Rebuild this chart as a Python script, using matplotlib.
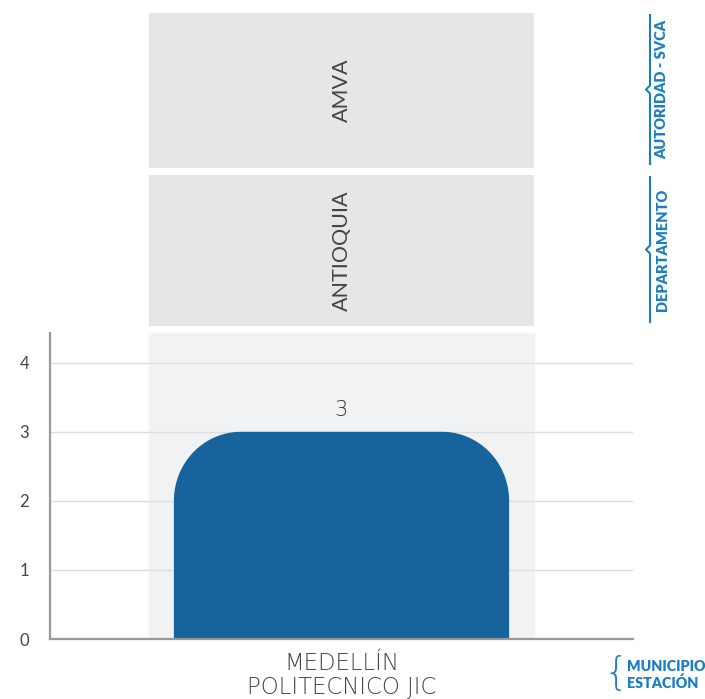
import numpy as np
import matplotlib.pyplot as plt
from matplotlib.patches import Polygon
from matplotlib.lines import Line2D

plt.rcParams['font.family'] = ['Lato', 'DejaVu Sans']

# datos
categorias = ["MEDELLÍN\nPOLITECNICO JIC"]
valores = [3]
paneles = ["AMVA", "ANTIOQUIA"]
niveles = ["AUTORIDAD - SVCA", "DEPARTAMENTO"]
y_ticks = [0, 1, 2, 3, 4]

azul_barra = '#17639b'
azul_texto = '#1a7fc1'
gris_panel = '#e5e6e8'
gris_banda = '#f1f2f4'

W, H = 705, 699
fig = plt.figure(figsize=(W / 100, H / 100), dpi=100)


def caja(x0, y0, x1, y1):
    # pixeles (origen arriba-izquierda) -> fraccion de figura
    return [x0 / W, 1 - y1 / H, (x1 - x0) / W, (y1 - y0) / H]


# grafico principal
ax = fig.add_axes(caja(50, 333, 633, 639))
ax.set_xlim(-0.5, 0.5)
ax.set_ylim(0, 4.43)
x = list(range(len(categorias)))
ax.axvspan(-0.33, 0.33, color=gris_banda, zorder=0)
ax.set_yticks(y_ticks)
ax.yaxis.grid(True, color='#dedede', linewidth=1, zorder=1)
ax.set_axisbelow(True)

ancho = 0.575
rx, ry = 0.115, 1.0   # radio de las esquinas (x en unidades de categoria, y en unidades de valor)
t = np.linspace(0, np.pi / 2, 40)
for xi, v in zip(x, valores):
    x0, x1 = xi - ancho / 2, xi + ancho / 2
    izq = np.column_stack([x0 + rx * (1 - np.cos(t)), v - ry * (1 - np.sin(t))])
    der = np.column_stack([x1 - rx * (1 - np.cos(t[::-1])), v - ry * (1 - np.sin(t[::-1]))])
    pts = np.vstack([[[x0, 0]], izq, der, [[x1, 0]]])
    ax.add_patch(Polygon(pts, closed=True, facecolor=azul_barra, edgecolor='none', zorder=2))
    ax.text(xi, v + 0.17, str(v), ha='center', va='bottom', fontsize=15,
            color='#333333', family='DejaVu Sans', fontweight='light')

ax.set_xticks(x)
ax.set_xticklabels(categorias, fontsize=16.5, color='#444444', linespacing=1.09,
                   family='DejaVu Sans', fontweight='light')
ax.tick_params(axis='x', length=0, pad=9)
ax.tick_params(axis='y', length=0, pad=15, labelsize=12, labelcolor='#444444')
for s in ['top', 'right']:
    ax.spines[s].set_visible(False)
ax.spines['left'].set_color('#999999')
ax.spines['bottom'].set_color('#999999')
ax.spines['left'].set_linewidth(1.6)
ax.spines['bottom'].set_linewidth(1.6)

# paneles superiores
cajas = [(149, 13, 534, 168), (149, 175, 534, 326)]
for texto, c in zip(paneles, cajas):
    a = fig.add_axes(caja(*c))
    a.set_facecolor(gris_panel)
    a.set_xticks([])
    a.set_yticks([])
    for s in a.spines.values():
        s.set_visible(False)
    a.text(0.5, 0.5, texto, rotation=90, ha='center', va='center',
           fontsize=15.5, color='#444444', transform=a.transAxes)

# corchetes de la derecha
for texto, (x0, y0, x1, y1) in zip(niveles, cajas):
    ya, yb = y0 + 2, y1 - 4
    ym = (ya + yb) / 2
    xs = [650, 650, 646, 650, 650]
    ys = [ya, ym - 4, ym, ym + 4, yb]
    fig.add_artist(Line2D([v / W for v in xs], [1 - v / H for v in ys],
                          color=azul_texto, linewidth=1.5))
    fig.text(662 / W, 1 - ym / H, texto, rotation=90, ha='center', va='center',
             fontsize=10.5, fontweight='heavy', color=azul_texto)

fig.text(616 / W, 1 - 674 / H, "{", ha='center', va='center', fontsize=28,
         color=azul_texto, family='DejaVu Sans', fontweight='light')
fig.text(627 / W, 1 - 675 / H, "MUNICIPIO\nESTACIÓN", ha='left', va='center',
         fontsize=10.3, fontweight='heavy', color=azul_texto, linespacing=1.2)

plt.savefig("out.png", dpi=100)
